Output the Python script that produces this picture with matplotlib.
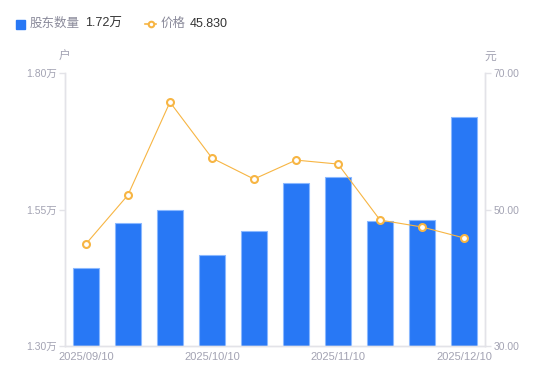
import matplotlib.pyplot as plt
from matplotlib.patches import Rectangle
from matplotlib.lines import Line2D

plt.rcParams['font.family'] = ['Liberation Sans', 'Noto Sans CJK SC', 'DejaVu Sans']

dates = ['2025/09/10', '2025/09/19', '2025/09/30', '2025/10/10', '2025/10/20',
         '2025/10/31', '2025/11/10', '2025/11/20', '2025/11/28', '2025/12/10']
holders = [1.443, 1.525, 1.549, 1.467, 1.511, 1.599, 1.610, 1.529, 1.531, 1.720]
price = [44.95, 52.12, 65.75, 57.55, 54.47, 57.25, 56.67, 48.46, 47.44, 45.83]
left_ticks = [1.30, 1.55, 1.80]
right_ticks = [30, 50, 70]
shown_dates = [0, 3, 6, 9]

blue = '#2878f5'
orange = '#f7b543'
gray = '#a3a3b3'
axis_c = '#e3e3e8'

fig = plt.figure(figsize=(5.5, 3.81), dpi=100)
ax = fig.add_axes([0.118, 0.092, 0.764, 0.716])
x = list(range(len(dates)))

ax.bar(x, holders, width=0.6, color=blue, edgecolor='#8ab8ff', linewidth=0.8, zorder=2)
ax.set_xlim(-0.5, len(dates) - 0.5)
ax.set_ylim(1.30, 1.80)
ax.set_yticks(left_ticks)
ax.set_yticklabels([f'{v:.2f}万' for v in left_ticks])
ax.set_xticks([x[i] for i in shown_dates])
ax.set_xticklabels([dates[i] for i in shown_dates])

ax2 = ax.twinx()
ax2.plot(x, price, color=orange, linewidth=0.8, marker='o', markersize=5,
         markerfacecolor='white', markeredgecolor=orange, markeredgewidth=1.5, zorder=3)
ax2.set_ylim(30, 70)
ax2.set_yticks(right_ticks)
ax2.set_yticklabels([f'{v:.2f}' for v in right_ticks])

for a in (ax, ax2):
    a.spines['top'].set_visible(False)
    for s in ('left', 'right', 'bottom'):
        a.spines[s].set_color(axis_c)
        a.spines[s].set_linewidth(1)
    a.tick_params(axis='y', colors=axis_c, labelcolor=gray, labelsize=7.5, length=4, width=1, pad=2)
ax.tick_params(axis='x', length=0, labelcolor=gray, labelsize=8, pad=4)

fig.text(59 / 550, 1 - 57 / 381, '户', color=gray, fontsize=8.5, ha='left', va='center')
fig.text(484 / 550, 1 - 57 / 381, '元', color=gray, fontsize=8.5, ha='left', va='center')

# legend
fig.add_artist(Rectangle((16 / 550, 1 - 29 / 381), 9 / 550, 9 / 381, color=blue,
                         transform=fig.transFigure))
fig.text(30 / 550, 1 - 24 / 381, '股东数量', color='#8a8a9a', fontsize=9, va='center')
fig.text(85 / 550, 1 - 24 / 381, '1.72万', color='#333333', fontsize=9, va='center')
fig.add_artist(Line2D([145 / 550, 156 / 550], [1 - 24 / 381] * 2, color=orange, linewidth=1.2,
                      transform=fig.transFigure))
fig.add_artist(Line2D([150.5 / 550], [1 - 24 / 381], marker='o', markersize=4,
                      markerfacecolor='white', markeredgecolor=orange, markeredgewidth=1.5,
                      transform=fig.transFigure))
fig.text(161 / 550, 1 - 24 / 381, '价格', color='#8a8a9a', fontsize=9, va='center')
fig.text(190 / 550, 1 - 24 / 381, '45.830', color='#333333', fontsize=9, va='center')

fig.savefig('out.png', dpi=100)
